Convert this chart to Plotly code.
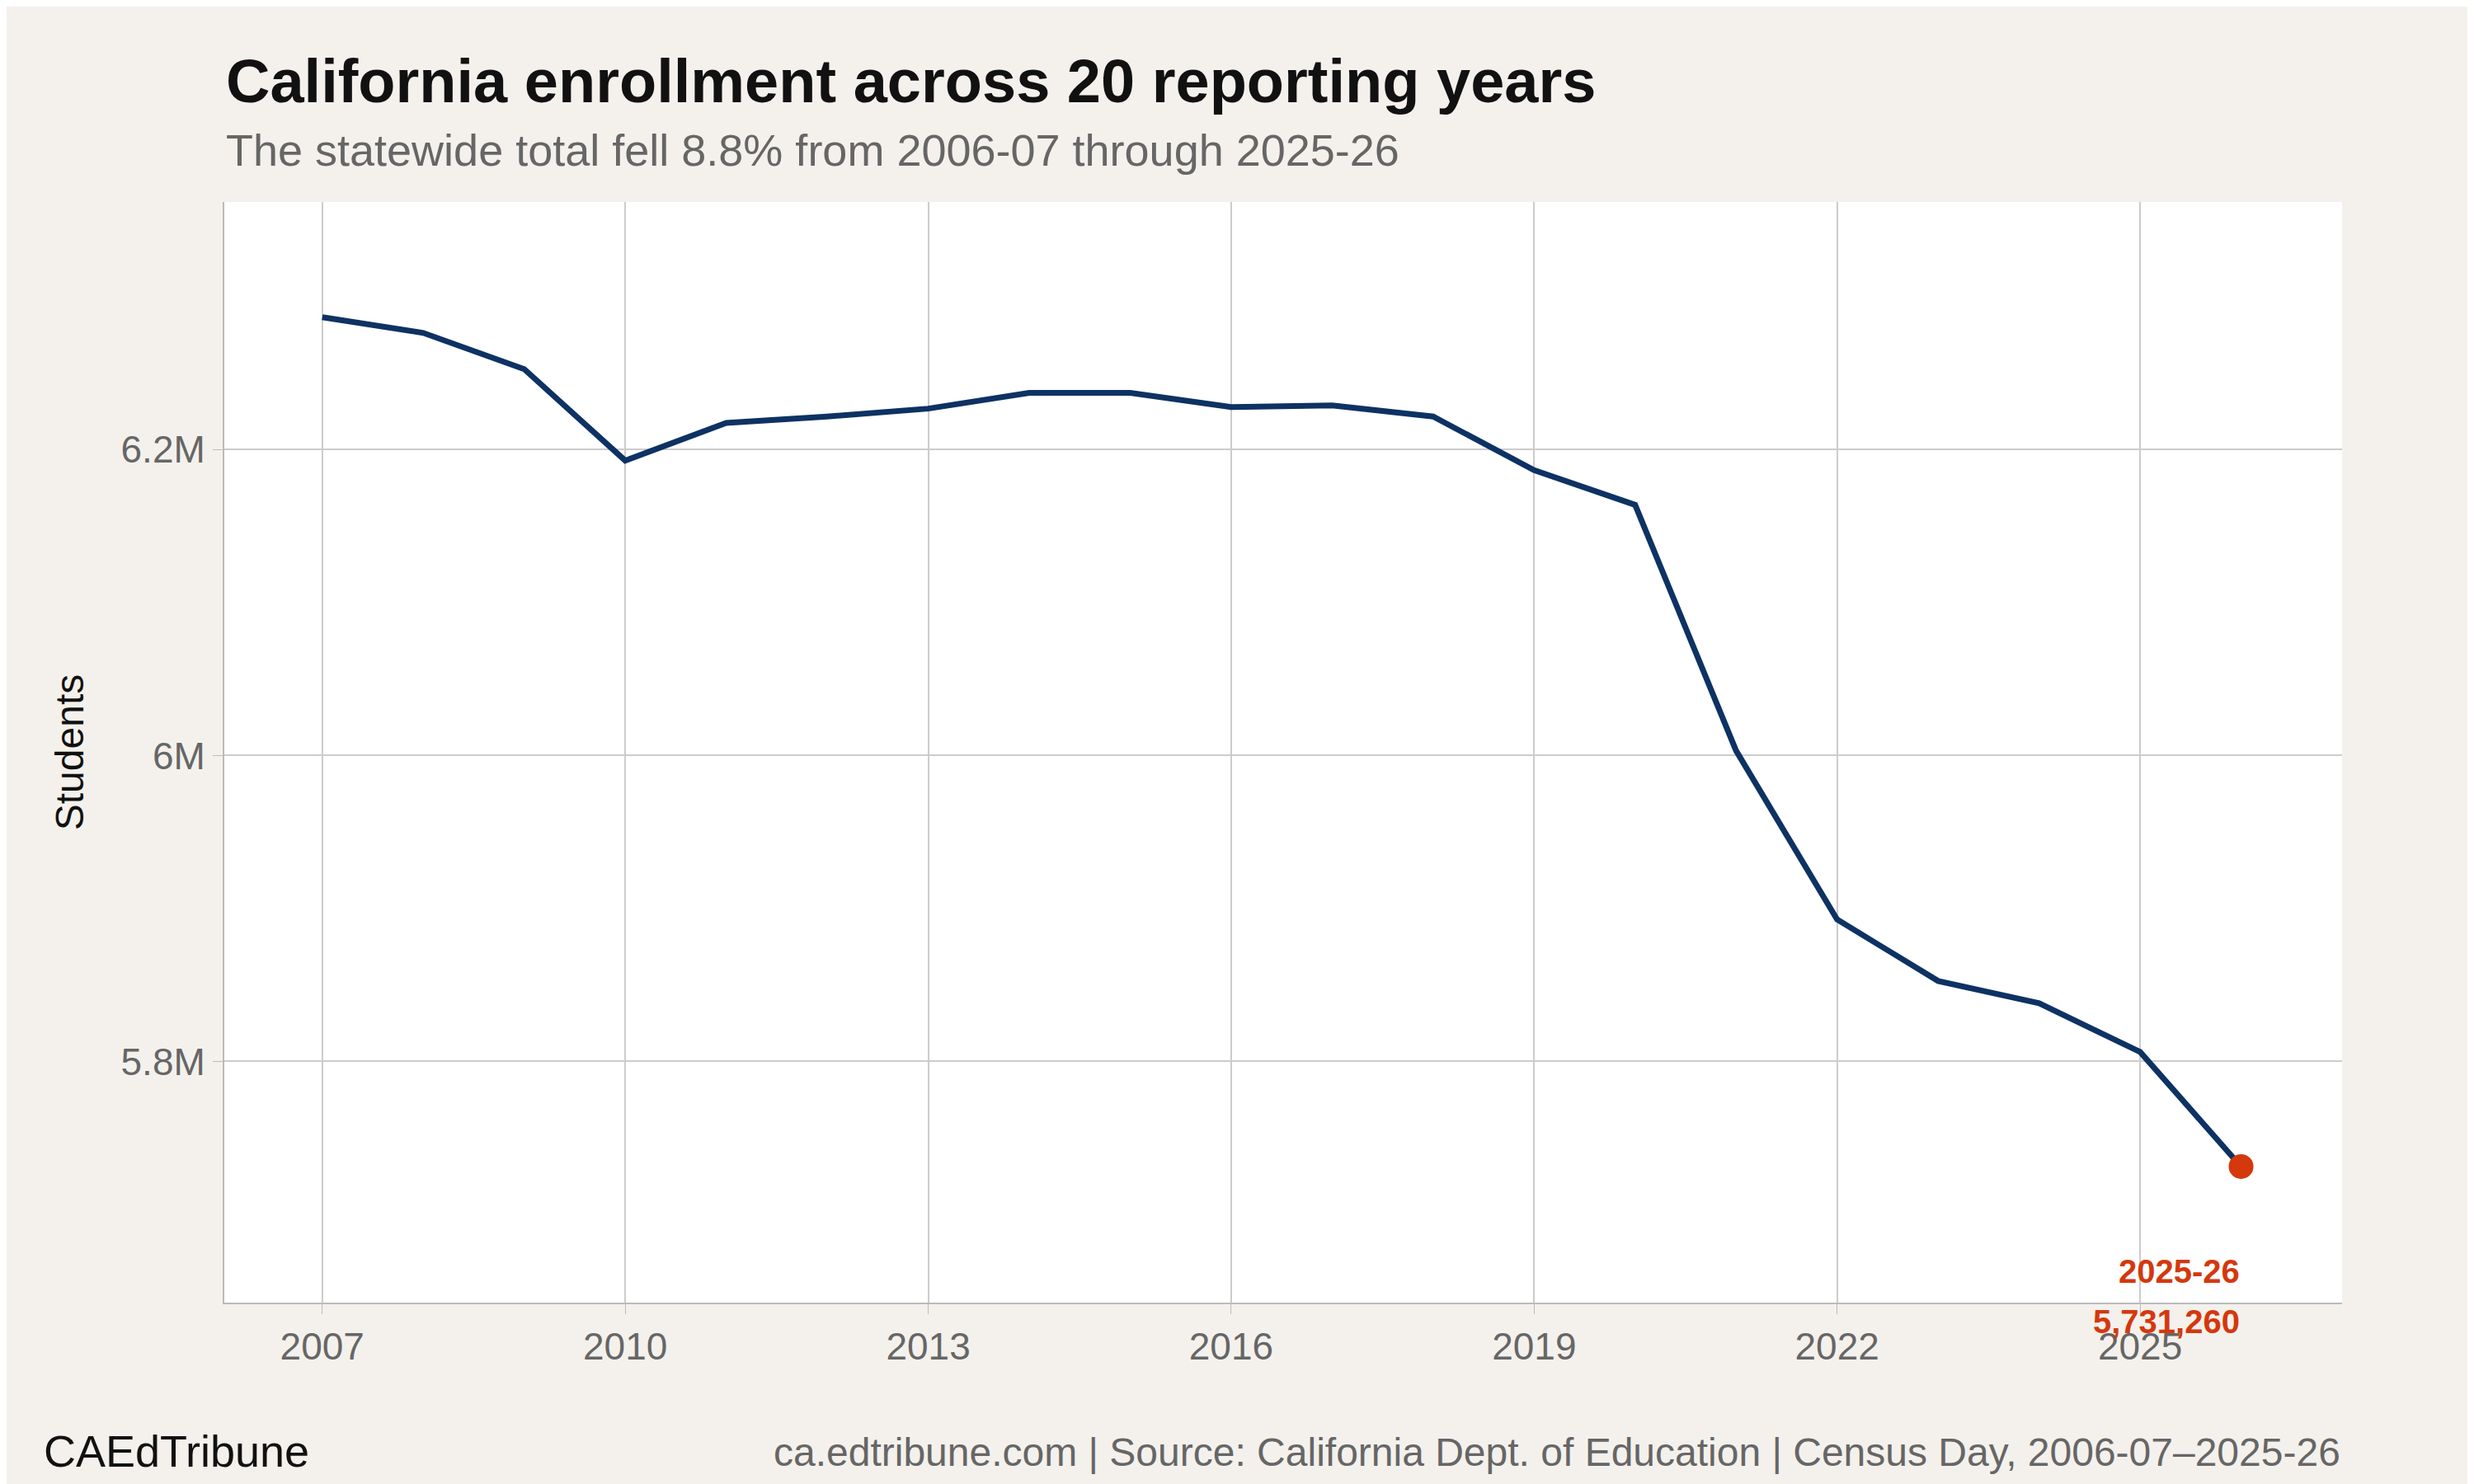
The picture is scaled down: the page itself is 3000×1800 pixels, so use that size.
import plotly.graph_objects as go

years = list(range(2007, 2027))
students = [6286600, 6276300, 6252600, 6192800, 6217500, 6221600, 6226800, 6237100, 6237100,
            6227800, 6228900, 6221600, 6186600, 6163900, 6003100, 5892800, 5852600, 5838100,
            5806200, 5731260]
tick_vals = [5800000, 6000000, 6200000]
tick_text = ["5.8M", "6M", "6.2M"]
last_label = "2025-26"

F = "Liberation Sans, Arial, sans-serif"
fig = go.Figure()
fig.add_trace(go.Scatter(x=years, y=students, mode="lines",
                         line=dict(color="#0d3263", width=7), hoverinfo="skip"))
fig.add_trace(go.Scatter(x=[years[-1]], y=[students[-1]], mode="markers",
                         marker=dict(color="#d4380d", size=30)))
fig.add_annotation(x=years[-1], y=students[-1], text=f"<b>{last_label}</b>", showarrow=False,
                   xanchor="right", yanchor="middle", yshift=-127,
                   font=dict(family=F, size=40, color="#d4380d"))
fig.add_annotation(x=years[-1], y=students[-1], text=f"<b>{students[-1]:,}</b>", showarrow=False,
                   xanchor="right", yanchor="middle", yshift=-188,
                   font=dict(family=F, size=40, color="#d4380d"))
fig.add_annotation(x=0, y=1.110, xref="paper", yref="paper", xanchor="left", yanchor="middle",
                   text="<b>California enrollment across 20 reporting years</b>", showarrow=False,
                   font=dict(family=F, size=74, color="#111111"))
fig.add_annotation(x=0, y=1.047, xref="paper", yref="paper", xanchor="left", yanchor="middle",
                   text="The statewide total fell 8.8% from 2006-07 through 2025-26", showarrow=False,
                   font=dict(family=F, size=54, color="#666666"))
fig.update_layout(
    width=3000, height=1800, showlegend=False,
    paper_bgcolor="#f4f1ec", plot_bgcolor="#ffffff",
    margin=dict(l=264, r=168, t=237, b=228),
    font=dict(family=F, color="#666666"),
    xaxis=dict(range=[2006.03, 2027.0], tickvals=list(range(2007, 2026, 3)),
               showgrid=True, gridcolor="#cccccc", gridwidth=2, zeroline=False,
               showline=True, linecolor="#bbbbbb", linewidth=2,
               ticks="outside", ticklen=12, tickcolor="#bbbbbb",
               tickfont=dict(family=F, size=46, color="#666666")),
    yaxis=dict(range=[5642300, 6361900], tickvals=tick_vals, ticktext=tick_text,
               showgrid=True, gridcolor="#cccccc", gridwidth=2, zeroline=False,
               showline=True, linecolor="#bbbbbb", linewidth=2,
               ticks="outside", ticklen=12, tickcolor="#bbbbbb",
               tickfont=dict(family=F, size=46, color="#666666"),
               title=dict(text="Students", font=dict(family=F, size=48, color="#111111"), standoff=30)),
)
fig.add_annotation(x=50/3000, y=22/1800, xref="paper", yref="paper", xanchor="left", yanchor="bottom",
                   text="CAEdTribune", showarrow=False, font=dict(family=F, size=54, color="#111111"),
                   xshift=-264, yshift=-228)
fig.add_annotation(x=1, y=0, xref="paper", yref="paper", xanchor="right", yanchor="bottom",
                   text="ca.edtribune.com | Source: California Dept. of Education | Census Day, 2006-07–2025-26",
                   showarrow=False, font=dict(family=F, size=48, color="#666666"), yshift=-210)
fig.write_html("out.html")
